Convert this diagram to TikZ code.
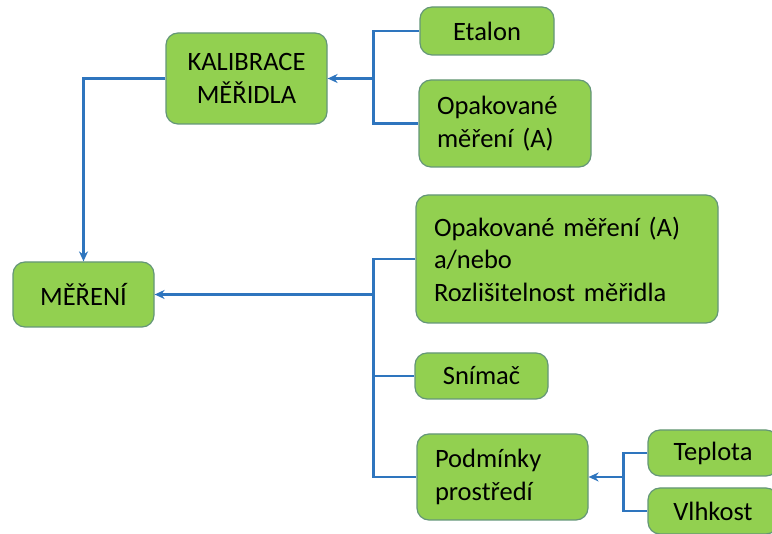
\documentclass[tikz,border=0pt]{standalone}
\usepackage{fontspec}
\setmainfont{Carlito}
\usetikzlibrary{arrows.meta, positioning, calc}
\definecolor{boxgreen}{RGB}{146, 208, 80}
\definecolor{boxborder}{RGB}{100, 150, 120}
\definecolor{linkblue}{RGB}{46, 117, 190}
\tikzstyle{item} = [rectangle, rounded corners=12pt, draw=boxborder, line width=1.2pt, fill=boxgreen, font=\fontsize{26.5}{32.5}\selectfont, align=center, inner sep=0pt]
\tikzstyle{itemleft} = [item, align=left, inner xsep=18pt]
\tikzstyle{link} = [draw=linkblue, line width=2.6pt]
\tikzstyle{arrow} = [link, -{Stealth[length=10pt, width=9pt]}]

\begin{document}
\begin{tikzpicture}[x=1pt, y=-1pt]

\useasboundingbox (0,0) rectangle (772,534);

\node (kal) [item, minimum width=161pt, minimum height=91pt] at (246.5,78.5) {KALIBRACE\\MĚŘIDLA};
\node (etalon) [item, minimum width=134pt, minimum height=48pt] at (487,31) {Etalon};
\node (opak) [itemleft, text width=136pt, minimum height=87pt] at (505,123.5) {Opakované\\měření (A)};
\node (mer) [item, minimum width=141pt, minimum height=65pt] at (83.5,294.5) {MĚŘENÍ};
\node (big) [itemleft, text width=266pt, minimum height=128pt] at (567,259) {Opakované měření (A)\\a/nebo\\Rozlišitelnost měřidla};
\node (snimac) [item, minimum width=133pt, minimum height=46pt] at (481.5,376) {Snímač};
\node (podm) [itemleft, text width=135pt, minimum height=86pt] at (502.5,477) {Podmínky\\prostředí};
\node (tepl) [item, minimum width=130pt, minimum height=46pt] at (713,453) {Teplota};
\node (vlh) [item, minimum width=130pt, minimum height=46pt] at (713,511) {Vlhkost};

\coordinate (kaljoin) at ($(kal.east)+(46,0)$);
\coordinate (merjoin) at ($(mer.east)+(219,0)$);
\coordinate (podmjoin) at ($(podm.east)+(35,0)$);

% Arrows
\draw [link] (etalon.west) -| (kaljoin) |- (opak.west);
\draw [arrow] (kaljoin) -- (kal.east);
\draw [arrow] (kal.west) -| (mer.north);
\draw [link] (big.west) -| (merjoin) |- (podm.west);
\draw [link] (merjoin |- snimac.west) -- (snimac.west);
\draw [arrow] (merjoin) -- (mer.east);
\draw [link] (tepl.west) -| (podmjoin) |- (vlh.west);
\draw [arrow] (podmjoin) -- (podm.east);

\end{tikzpicture}
\end{document}
